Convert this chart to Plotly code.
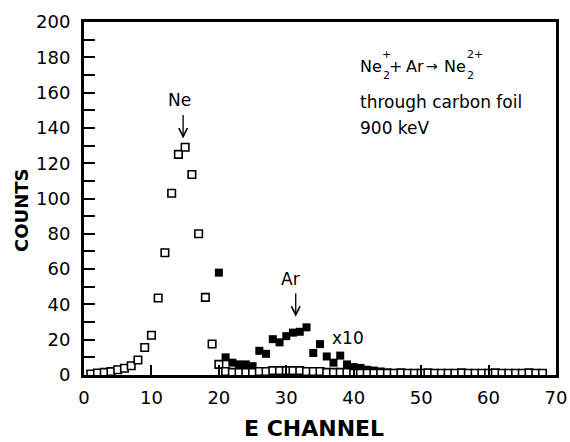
import plotly.graph_objects as go

# ---------------- data ----------------
ne_channel = list(range(1, 69))
ne_counts = [0.6, 1.1, 1.5, 1.9, 3, 3.8, 5.2, 8.5, 15.6, 22.5,
             43.6, 69.3, 103, 125, 129, 113.6, 80, 44, 17.6, 6,
             2, 1.5, 1.5, 1.5, 1.5,
             2, 2, 2.5, 2.5, 2.5, 2.5, 2.5, 2, 2,
             2, 1.5, 1.5, 1.5, 1.5, 1, 1, 1, 1, 1, 1,
             1, 1.2, 1, 1, 1, 1.2, 1, 1, 1, 1, 1.2, 1, 1, 1, 1, 1.2, 1, 1, 1, 1, 1.2, 1, 1]

ar_channel = list(range(20, 69))
ar_counts_x10 = [58, 10, 7, 6, 6, 5, 13.7, 12, 20.3, 18.5,
                 22, 24, 24.5, 27, 12.5, 17.5, 10.5, 7, 11, 6,
                 4.5, 4, 3, 2.5, 2, 1.5,
                 1.2, 1, 1, 1, 1, 1, 1, 1, 1, 1, 1, 1, 1, 1, 1, 1, 1, 1, 0.8, 0.8, 0.8, 0.6, 0.5]

x_ticks = [0, 10, 20, 30, 40, 50, 60, 70]
y_ticks = [0, 20, 40, 60, 80, 100, 120, 140, 160, 180, 200]

# ---------------- layout geometry ----------------
W, H = 570, 442
L, R, T, B = 84, 14, 22, 67
PW, PH = W - L - R, H - T - B


def pxx(x):
    return (x - L) / PW


def pxy(y):
    return (H - B - y) / PH


FONT = "DejaVu Sans"

fig = go.Figure()
fig.add_trace(go.Scatter(
    x=ar_channel, y=ar_counts_x10, mode="markers", name="Ar x10",
    marker=dict(symbol="square", size=8, color="black", line=dict(width=0)),
))
fig.add_trace(go.Scatter(
    x=ne_channel, y=ne_counts, mode="markers", name="Ne",
    marker=dict(symbol="square", size=7.5, color="white",
                line=dict(color="black", width=1.6)),
))

ann = []


def txt(text, x, y, size=17, xanchor="center", bold=False):
    ann.append(dict(text=("<b>%s</b>" % text) if bold else text,
                    x=pxx(x), y=pxy(y), xref="paper", yref="paper",
                    xanchor=xanchor, yanchor="middle", showarrow=False,
                    font=dict(family=FONT, size=size, color="black")))


def arrow(xd, yd, length):
    ann.append(dict(text="", x=xd, y=yd, xref="x", yref="y", showarrow=True,
                    ax=0, ay=-length, arrowhead=5, arrowsize=1.3,
                    arrowwidth=1.3, arrowcolor="black"))


txt("Ne", 179, 100)
arrow(14.7, 134, 25)
txt("Ar", 290, 279)
arrow(31.4, 33, 25)
txt("x10", 348, 338)

# reaction label
txt("Ne", 358, 66, size=16, xanchor="left")
txt("2", 381, 75, size=11, xanchor="left")
txt("+", 380, 54, size=11, xanchor="left")
txt("+", 395, 66, size=16)
txt("Ar", 404, 66, size=16, xanchor="left")
txt("→", 424, 66, size=14, xanchor="left")
txt("Ne", 442, 66, size=16, xanchor="left")
txt("2", 465, 75, size=11, xanchor="left")
txt("2+", 465, 54, size=11, xanchor="left")
txt("through carbon foil", 358, 102, xanchor="left")
txt("900 keV", 358, 128, xanchor="left")

# axis titles
txt("E CHANNEL", 314, 428, size=22, bold=True)
ann.append(dict(text="<b>COUNTS</b>", x=pxx(21), y=pxy(211), xref="paper", yref="paper",
                xanchor="center", yanchor="middle", showarrow=False, textangle=-90,
                font=dict(family=FONT, size=18, color="black")))

fig.update_layout(
    width=W, height=H,
    margin=dict(l=L, r=R, t=T, b=B, autoexpand=False),
    paper_bgcolor="white", plot_bgcolor="white",
    showlegend=False,
    annotations=ann,
    font=dict(family=FONT, size=18, color="black"),
    xaxis=dict(range=[0, 70], tickvals=x_ticks, ticks="inside", ticklen=10, tickwidth=2,
               tickcolor="black", showline=True, linewidth=3, linecolor="black", mirror=True,
               showgrid=False, zeroline=False, tickfont=dict(family=FONT, size=18),
               ticklabelstandoff=4, automargin=False),
    yaxis=dict(range=[0, 200], tickvals=y_ticks, ticks="inside", ticklen=11, tickwidth=2,
               tickcolor="black", showline=True, linewidth=3, linecolor="black", mirror=True,
               showgrid=False, zeroline=False, tickfont=dict(family=FONT, size=18),
               ticklabelstandoff=7, automargin=False,
               minor=dict(dtick=10, ticks="inside", ticklen=11, tickwidth=2, tickcolor="black")),
)

fig.write_html("out.html", config={"responsive": False, "displayModeBar": False},
               post_script="document.body.style.margin='0';document.body.style.overflow='hidden';")
